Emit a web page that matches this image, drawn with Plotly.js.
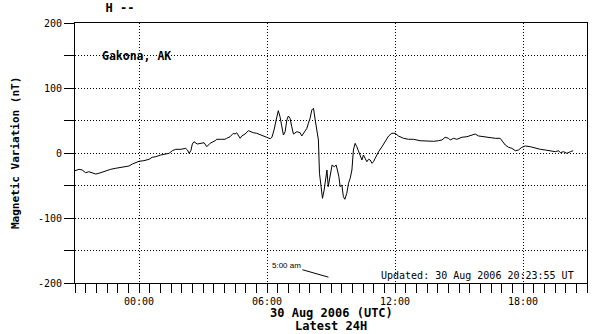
<!DOCTYPE html>
<html>
<head>
<meta charset="utf-8">
<script src="https://cdn.plot.ly/plotly-3.0.1.min.js"></script>
<style>html,body{margin:0;padding:0;background:#fff;}#chart{width:603px;height:334px;}</style>
</head>
<body>
<div id="chart"></div>
<script>
// Hours relative to 00:00 UTC, 30 Aug 2006
const hours = [-3.0,-2.81,-2.66,-2.50,-2.35,-2.19,-2.03,-1.88,-1.56,-1.33,-1.09,-0.86,-0.62,-0.47,-0.31,-0.15,0.0,0.23,0.47,0.62,0.78,1.02,1.25,1.41,1.49,1.56,1.72,1.96,2.19,2.27,2.35,2.43,2.50,2.58,2.73,2.89,3.05,3.18,3.33,3.57,3.65,3.88,4.03,4.11,4.27,4.42,4.50,4.58,4.66,4.74,4.82,4.97,5.13,5.21,5.36,5.52,5.68,5.83,5.99,6.15,6.23,6.33,6.43,6.53,6.61,6.69,6.77,6.85,6.93,7.00,7.08,7.16,7.24,7.40,7.55,7.63,7.71,7.87,7.94,8.02,8.10,8.18,8.26,8.34,8.41,8.46,8.52,8.60,8.68,8.74,8.81,8.87,8.93,8.99,9.05,9.15,9.24,9.30,9.37,9.43,9.51,9.58,9.65,9.74,9.82,9.90,9.98,10.05,10.13,10.21,10.29,10.37,10.45,10.52,10.60,10.68,10.76,10.84,10.92,10.99,11.07,11.23,11.39,11.54,11.70,11.85,12.01,12.16,12.40,12.63,12.87,13.18,13.50,13.81,14.04,14.20,14.35,14.51,14.59,14.74,14.90,15.14,15.37,15.61,15.76,15.92,16.15,16.39,16.70,16.93,17.01,17.17,17.32,17.48,17.64,17.79,17.95,18.11,18.34,18.58,18.81,19.05,19.28,19.52,19.67,19.75,19.90,20.06,20.22,20.35];
const nT = [-27.2,-25.1,-26.2,-30.3,-28.8,-30.3,-32.3,-31.2,-27.2,-25.1,-23.5,-22.0,-21.1,-20.0,-16.9,-15.0,-12.8,-11.8,-9.7,-6.6,-5.7,-3.1,-1.5,-0.5,1.5,3.5,5.7,5.7,7.2,4.6,-0.5,3.5,13.8,17.4,13.8,14.9,15.8,9.7,14.9,18.9,21.1,21.1,21.1,22.6,25.1,30.3,29.2,31.2,26.2,22.6,26.2,29.2,34.3,32.8,31.2,30.3,28.2,26.2,24.2,22.0,24.2,35.4,50.8,65.1,55.8,40.5,27.7,32.8,50.8,56.9,53.4,40.5,29.2,32.8,31.2,26.2,30.3,38.0,45.7,53.4,66.2,68.8,50.8,35.4,20.0,-31.2,-46.6,-69.7,-56.9,-41.5,-26.2,-51.8,-38.9,-26.2,-18.5,-21.1,-18.5,-26.2,-36.5,-51.8,-49.2,-67.2,-71.2,-62.0,-46.6,-38.9,-26.2,4.6,14.9,9.7,2.0,-5.7,-10.8,-3.1,-8.2,-13.4,-9.7,-10.8,-15.8,-13.4,-8.2,2.0,9.7,17.4,26.2,30.3,30.3,26.2,22.6,21.1,21.1,18.9,18.0,18.0,18.9,20.0,24.2,22.6,20.0,22.6,21.1,24.2,25.1,27.7,29.2,26.2,25.1,24.2,22.6,22.6,18.9,12.3,8.8,7.2,3.5,4.6,8.8,10.8,9.7,7.2,5.7,4.6,3.5,2.0,3.5,0.5,2.0,-0.5,2.0,3.5];

const xTickVals = [0, 6, 12, 18];
const xTickText = ['00:00', '06:00', '12:00', '18:00'];
const yTickVals = [-200, -150, -100, -50, 0, 50, 100, 150, 200];
const yTickText = ['-200', '', '-100', '', '0', '', '100', '', '200'];

const mono = 'DejaVu Sans Mono, monospace';

const trace = {
  x: hours, y: nT, type: 'scatter', mode: 'lines',
  line: {color: '#000', width: 1}, hoverinfo: 'skip'
};

const layout = {
  width: 603, height: 334,
  margin: {l: 75, r: 16, t: 23, b: 51, pad: 0},
  paper_bgcolor: '#fff', plot_bgcolor: '#fff',
  showlegend: false,
  font: {family: mono, size: 10, color: '#000'},
  title: {text: '<b>H --</b>', x: 120/603, xanchor: 'center', xref: 'container',
          y: 1 - 8/334, yanchor: 'middle', yref: 'container',
          font: {family: mono, size: 12, color: '#000'}},
  xaxis: {
    range: [-3, 21], tickmode: 'array', tickvals: xTickVals, ticktext: xTickText,
    ticks: 'outside', ticklen: 9, tickwidth: 1, tickcolor: '#000',
    minor: {tickmode: 'linear', tick0: -3, dtick: 0.5, ticks: 'outside', ticklen: 9, tickwidth: 1, tickcolor: '#000', showgrid: false},
    showgrid: true, gridcolor: '#000', gridwidth: 1, griddash: '1px,2px',
    showline: true, linecolor: '#000', linewidth: 1, mirror: true,
    zeroline: false, fixedrange: true,
    tickfont: {family: mono, size: 10, color: '#000'}
  },
  yaxis: {
    range: [-200, 200], tickmode: 'array', tickvals: yTickVals, ticktext: yTickText,
    ticks: 'outside', ticklen: 10, tickwidth: 1, tickcolor: '#000',
    showgrid: true, gridcolor: '#000', gridwidth: 1, griddash: '1px,2px',
    showline: true, linecolor: '#000', linewidth: 1, mirror: true,
    zeroline: false, fixedrange: true,
    tickfont: {family: mono, size: 10, color: '#000'}
  },
  annotations: [
    {text: '<b>Gakona, AK</b>', xref: 'paper', yref: 'paper', x: 25/512, y: (283-56)/260,
     xanchor: 'left', yanchor: 'middle', showarrow: false, font: {family: mono, size: 11.5, color: '#000'}},
    {text: '<b>Magnetic Variation (nT)</b>', xref: 'paper', yref: 'paper', x: (15-75)/512, y: (283-153)/260,
     xanchor: 'center', yanchor: 'middle', textangle: -90, showarrow: false, font: {family: mono, size: 11, color: '#000'}},
    {text: '<b>30 Aug 2006 (UTC)</b>', xref: 'paper', yref: 'paper', x: (331-75)/512, y: (283-313)/260,
     xanchor: 'center', yanchor: 'middle', showarrow: false, font: {family: mono, size: 12, color: '#000'}},
    {text: '<b>Latest 24H</b>', xref: 'paper', yref: 'paper', x: (331-75)/512, y: (283-326)/260,
     xanchor: 'center', yanchor: 'middle', showarrow: false, font: {family: mono, size: 12, color: '#000'}},
    {text: 'Updated: 30 Aug 2006 20:23:55 UT', xref: 'paper', yref: 'paper', x: (576-75)/512, y: (283-275.5)/260,
     xanchor: 'right', yanchor: 'middle', showarrow: false, font: {family: mono, size: 10, color: '#000'}},
    {text: '5:00 am', xref: 'x', yref: 'y', x: 8.88, y: -191,
     ax: -42, ay: -12, showarrow: true, arrowhead: 0, arrowwidth: 1, arrowcolor: '#000', standoff: 0,
     font: {family: 'Liberation Sans, Arial, sans-serif', size: 8, color: '#000'}}
  ]
};

Plotly.newPlot('chart', [trace], layout, {staticPlot: true, displayModeBar: false});
</script>
</body>
</html>
